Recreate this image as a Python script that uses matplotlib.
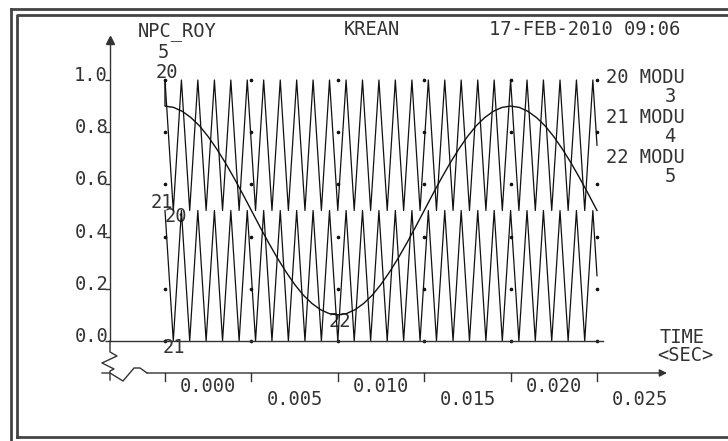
import matplotlib.pyplot as plt
from matplotlib.lines import Line2D

# carrier vertex times in ms (about 1050 Hz carrier)
carrier_t_ms = [0.00, 0.48, 0.95, 1.43, 1.90, 2.38, 2.86, 3.33, 3.81, 4.29,
                4.76, 5.24, 5.71, 6.19, 6.67, 7.14, 7.62, 8.10, 8.57, 9.05,
                9.52, 10.00, 10.48, 10.95, 11.43, 11.90, 12.38, 12.86, 13.33, 13.81,
                14.29, 14.76, 15.24, 15.71, 16.19, 16.67, 17.14, 17.62, 18.10, 18.57,
                19.05, 19.52, 20.00, 20.48, 20.95, 21.43, 21.90, 22.38, 22.86, 23.33,
                23.81, 24.29, 24.76, 25.00]
# channel 20 (MODU 3) - upper carrier
modu3 = [1.0, 0.5, 1.0, 0.5, 1.0, 0.5, 1.0, 0.5, 1.0, 0.5,
         1.0, 0.5, 1.0, 0.5, 1.0, 0.5, 1.0, 0.5, 1.0, 0.5,
         1.0, 0.5, 1.0, 0.5, 1.0, 0.5, 1.0, 0.5, 1.0, 0.5,
         1.0, 0.5, 1.0, 0.5, 1.0, 0.5, 1.0, 0.5, 1.0, 0.5,
         1.0, 0.5, 1.0, 0.5, 1.0, 0.5, 1.0, 0.5, 1.0, 0.5,
         1.0, 0.5, 1.0, 0.75]
# channel 21 (MODU 4) - lower carrier
modu4 = [0.5, 0.0, 0.5, 0.0, 0.5, 0.0, 0.5, 0.0, 0.5, 0.0,
         0.5, 0.0, 0.5, 0.0, 0.5, 0.0, 0.5, 0.0, 0.5, 0.0,
         0.5, 0.0, 0.5, 0.0, 0.5, 0.0, 0.5, 0.0, 0.5, 0.0,
         0.5, 0.0, 0.5, 0.0, 0.5, 0.0, 0.5, 0.0, 0.5, 0.0,
         0.5, 0.0, 0.5, 0.0, 0.5, 0.0, 0.5, 0.0, 0.5, 0.0,
         0.5, 0.0, 0.5, 0.25]

# channel 22 (MODU 5) - reference wave
ref_t_ms = [0.0, 0.0, 0.5, 1.0, 1.5, 2.0, 2.5, 3.0, 3.5, 4.0, 4.5,
            5.0, 5.5, 6.0, 6.5, 7.0, 7.5, 8.0, 8.5, 9.0, 9.5,
            10.0, 10.5, 11.0, 11.5, 12.0, 12.5, 13.0, 13.5, 14.0, 14.5,
            15.0, 15.5, 16.0, 16.5, 17.0, 17.5, 18.0, 18.5, 19.0, 19.5,
            20.0, 20.5, 21.0, 21.5, 22.0, 22.5, 23.0, 23.5, 24.0, 24.5, 25.0]
modu5 = [1.0, 0.9, 0.895, 0.880, 0.856, 0.824, 0.783, 0.735, 0.682, 0.624, 0.563,
         0.5, 0.437, 0.376, 0.318, 0.265, 0.217, 0.176, 0.144, 0.120, 0.105,
         0.100, 0.105, 0.120, 0.144, 0.176, 0.217, 0.265, 0.318, 0.376, 0.437,
         0.5, 0.563, 0.624, 0.682, 0.735, 0.783, 0.824, 0.856, 0.880, 0.895,
         0.9, 0.895, 0.880, 0.856, 0.824, 0.783, 0.735, 0.682, 0.624, 0.563, 0.5]

time_ticks = [0.000, 0.005, 0.010, 0.015, 0.020, 0.025]
time_labels = ["0.000", "0.005", "0.010", "0.015", "0.020", "0.025"]
value_ticks = [0.0, 0.2, 0.4, 0.6, 0.8, 1.0]
value_labels = ["0.0", "0.2", "0.4", "0.6", "0.8", "1.0"]
legend_names = ["20 MODU", "21 MODU", "22 MODU"]
legend_ids = ["3", "4", "5"]

FONT = "DejaVu Sans Mono"
FS = 13.5
INK = "#333333"
W, H = 728, 441

fig = plt.figure(figsize=(W / 100, H / 100), dpi=100)

# pixel overlay for the frame, headers and hand-placed labels
over = fig.add_axes([0, 0, 1, 1])
over.set_xlim(0, W)
over.set_ylim(H, 0)
over.axis("off")

# data axes: t=0 at px 165, t=0.025 at px 597; 0.0 at px 341, 1.0 at px 80
px_per_s = 432 / 0.025
px_per_unit = 261
ax_l, ax_r, ax_t, ax_b = 110, 603, 40, 341
ax = fig.add_axes([ax_l / W, 1 - ax_b / H, (ax_r - ax_l) / W, (ax_b - ax_t) / H])
ax.set_xlim((ax_l - 165) / px_per_s, (ax_r - 165) / px_per_s)
ax.set_ylim(0, (ax_b - ax_t) / px_per_unit)
ax.patch.set_alpha(0)
for s in ["top", "right"]:
    ax.spines[s].set_visible(False)
for s in ["left", "bottom"]:
    ax.spines[s].set_color(INK)
    ax.spines[s].set_linewidth(1.0)
ax.set_xticks([])
ax.set_yticks(value_ticks)
ax.set_yticklabels([])
ax.tick_params(axis="y", direction="out", length=3.6, width=1.0, color=INK)
ax.plot(0, 1, marker="^", ms=6, color=INK, transform=ax.transAxes, clip_on=False)

# curves
ax.plot([t / 1000 for t in carrier_t_ms], modu3, color="#111111", lw=0.9, clip_on=False)
ax.plot([t / 1000 for t in carrier_t_ms], modu4, color="#111111", lw=0.9, clip_on=False)
ax.plot([t / 1000 for t in ref_t_ms], modu5, color="#111111", lw=1.0, clip_on=False)

# grid dots
gx = [t for t in time_ticks for v in value_ticks]
gy = [v for t in time_ticks for v in value_ticks]
ax.plot(gx, gy, ls="none", marker="o", ms=1.6, color="#111111", clip_on=False)

# value labels
for v, lab in zip(value_ticks, value_labels):
    ax.annotate(lab, xy=(0, v), xycoords=("axes fraction", "data"),
                xytext=(-2, -1), textcoords="offset pixels",
                ha="right", va="baseline", family=FONT, fontsize=FS, color=INK)

# time axis (below, with its own ticks)
y_time = -32 / px_per_unit
ax.annotate("", xy=(502 / px_per_s, y_time), xytext=(-18 / px_per_s, y_time),
            arrowprops=dict(arrowstyle="-|>", lw=1.0, color=INK, mutation_scale=11,
                            shrinkA=0, shrinkB=0),
            annotation_clip=False)
for i, (t, lab) in enumerate(zip(time_ticks, time_labels)):
    ax.plot([t, t], [y_time, y_time - 8 / px_per_unit], color=INK, lw=1.0, clip_on=False)
    yb = y_time - (19 if i % 2 == 0 else 32) / px_per_unit
    ax.text(t + 0.0025, yb, lab, ha="center", va="baseline",
            family=FONT, fontsize=FS, color=INK, clip_on=False)

# axis break symbol
over.add_line(Line2D([110, 110, 117, 102, 114, 110, 110],
                     [341, 352, 356, 363, 369, 371, 380], color=INK, lw=1.0))
over.add_line(Line2D([102, 110, 123, 134, 140, 147],
                     [373, 373, 381, 368, 368, 373], color=INK, lw=1.0))

# double frame
fc = "#444444"
over.add_line(Line2D([11, 11], [9, 445], color=fc, lw=2.0))
over.add_line(Line2D([11, 735], [9, 9], color=fc, lw=2.0))
over.add_line(Line2D([17, 17, 735], [437, 15, 15], color=fc, lw=2.0))
over.add_line(Line2D([17, 735], [437, 437], color=fc, lw=2.0))


def txt(x, y, s, ha="center"):
    over.text(x, y, s, ha=ha, va="baseline", family=FONT, fontsize=FS, color=INK)


# header
txt(177, 36, "NPC_ROY")
txt(372, 35, "KREAN")
txt(585, 35, "17-FEB-2010 09:06")

# curve identifiers
txt(163, 58, "5")
txt(167, 78, "20")
txt(162, 208, "21")
txt(176, 222, "20")
txt(174, 353, "21")
txt(340, 327, "22")

# legend
for k, (name, num) in enumerate(zip(legend_names, legend_ids)):
    txt(645, 83 + 40 * k, name)
    txt(670, 102 + 40 * k, num)

txt(682, 343, "TIME")
txt(685, 361, "<SEC>")

fig.savefig("out.png", dpi=100)
